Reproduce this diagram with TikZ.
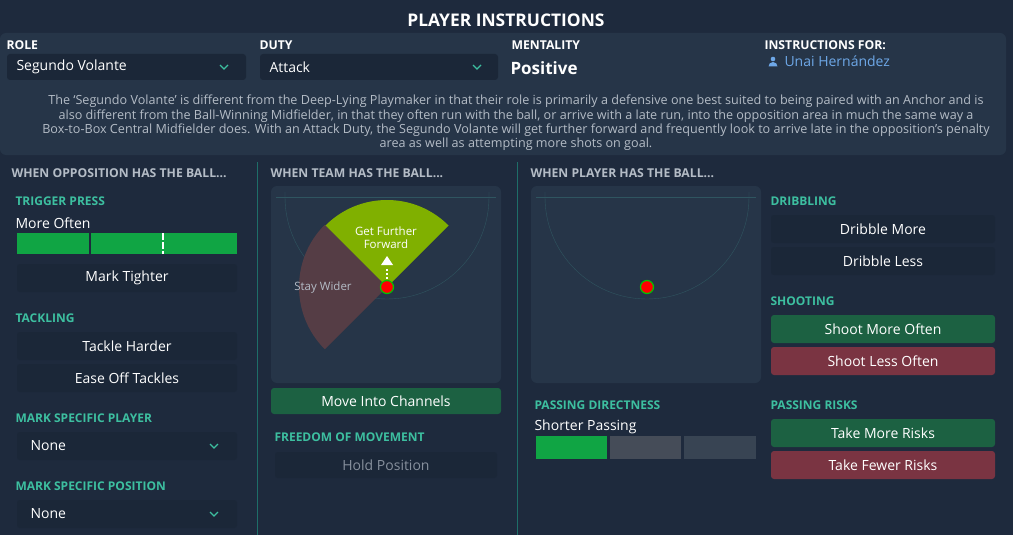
\documentclass[tikz,border=0pt]{standalone}
\usepackage{fontspec}
\setmainfont{Open Sans}
\usetikzlibrary{positioning}
\definecolor{bg}{HTML}{1E2A3D}
\definecolor{panel}{HTML}{263548}
\definecolor{btn}{HTML}{1B2738}
\definecolor{btngreen}{HTML}{1C6142}
\definecolor{btnred}{HTML}{7A3442}
\definecolor{teal}{HTML}{3DBFA0}
\definecolor{greytxt}{HTML}{B4BCC6}
\definecolor{linkblue}{HTML}{6EA8E8}
\definecolor{barfill}{HTML}{10A544}
\definecolor{sep}{HTML}{1E6E68}
\definecolor{pitchline}{HTML}{2F5560}
\definecolor{widezone}{HTML}{553D45}
\definecolor{fwdzone}{HTML}{80B000}
\tikzset{
  head/.style={anchor=west, text=greytxt, font=\fontsize{12.2}{13}\selectfont\bfseries},
  sub/.style={anchor=west, text=teal, font=\fontsize{12}{13}\selectfont\bfseries},
  lbl/.style={anchor=west, text=white, font=\fontsize{14}{15}\selectfont},
  btntext/.style={text=white, font=\fontsize{14}{15}\selectfont},
  chev/.style={draw=teal, line width=1.3pt},
}
\newcommand{\chevron}[2]{\draw[chev] (#1-4,#2-2) -- (#1,#2+2) -- (#1+4,#2-2);}
\begin{document}
\begin{tikzpicture}[x=1pt,y=-1pt]
    % background
    \fill[bg] (0,0) rectangle (1013,535);
    \useasboundingbox (0,0) rectangle (1013,535);
    \node (title) at (506,20) {\color{white}\fontsize{17.4}{19}\selectfont\bfseries PLAYER INSTRUCTIONS};

    % top panel
    \fill[panel, rounded corners=6pt] (0,33) rectangle (1006,155);
    \node[head, text=white] (role) at (3,45) {ROLE};
    \fill[btn, rounded corners=3pt] (7,54) rectangle (246,80);
    \node[lbl] (rolev) at (13,67) {Segundo Volante};
    \chevron{224}{67}
    \node[head, text=white] (duty) at (256,45) {DUTY};
    \fill[btn, rounded corners=3pt] (260,54) rectangle (498,80);
    \node[lbl] (dutyv) at (266,67) {Attack};
    \chevron{477}{67}
    \node[head, text=white] (ment) at (508,45) {MENTALITY};
    \node[anchor=west, text=white, font=\fontsize{17}{19}\selectfont\bfseries] (mentv) at (507,68) {Positive};
    \node[head, text=white] (ifor) at (761,45) {INSTRUCTIONS FOR:};
    \fill[linkblue] (773,59) circle (2.3pt);
    \fill[linkblue] (768.5,66.5) arc (180:0:4.5pt) -- cycle;
    \node[anchor=west, text=linkblue, font=\fontsize{14}{15}\selectfont] (player) at (781,61) {Unai Hernández};
    \node[text=greytxt, align=center, font=\fontsize{12.6}{14.3}\selectfont] (desc) at (516,123)
      {The ‘Segundo Volante’ is different from the Deep-Lying Playmaker in that their role is primarily a defensive one best suited to being paired with an Anchor and is\\
       also different from the Ball-Winning Midfielder, in that they often run with the ball, or arrive with a late run, into the opposition area in much the same way a\\
       Box-to-Box Central Midfielder does. With an Attack Duty, the Segundo Volante will get further forward and frequently look to arrive late in the opposition’s penalty\\
       area as well as attempting more shots on goal.};

    % separators
    \draw[sep, line width=1pt] (257,162) -- (257,535);
    \draw[sep, line width=1pt] (517,162) -- (517,535);

    % left column
    \node[head] (opp) at (8,173) {WHEN OPPOSITION HAS THE BALL...};
    \node[sub] (press) at (12,201) {TRIGGER PRESS};
    \node[lbl] (often) at (12,223) {More Often};
    \fill[barfill] (17,233) rectangle (237,254);
    \draw[bg, line width=1.5pt] (90,233) -- (90,254);
    \draw[white, line width=1.5pt, dash pattern=on 7pt off 2pt] (163,233) -- (163,254);
    \fill[btn, rounded corners=3pt] (17,264) rectangle (237,292);
    \node[btntext] (tighter) at (127,278) {Mark Tighter};
    \node[sub] (tack) at (12,318) {TACKLING};
    \fill[btn, rounded corners=3pt] (17,332) rectangle (237,360);
    \node[btntext] (harder) at (127,346) {Tackle Harder};
    \fill[btn, rounded corners=3pt] (17,364) rectangle (237,392);
    \node[btntext] (easeoff) at (127,378) {Ease Off Tackles};
    \node[sub] (msp) at (12,418) {MARK SPECIFIC PLAYER};
    \fill[btn, rounded corners=3pt] (17,432) rectangle (237,460);
    \node[lbl] (none1) at (27,446) {None};
    \chevron{214}{446}
    \node[sub] (mspos) at (12,486) {MARK SPECIFIC POSITION};
    \fill[btn, rounded corners=3pt] (17,500) rectangle (237,528);
    \node[lbl] (none2) at (27,514) {None};
    \chevron{214}{514}

    % middle column
    \node[head] (team) at (267,173) {WHEN TEAM HAS THE BALL...};
    \fill[panel, rounded corners=6pt] (271,186) rectangle (501,383);
    \draw[pitchline] (276,197) -- (496,197);
    \draw[pitchline] (285,192) -- (285,197) arc (180:360:102pt) -- (489,192);
    \coordinate (pos1) at (387,287);
    \fill[widezone] (pos1) -- ++(135:88pt) arc (135:225:88pt) -- cycle;
    \fill[fwdzone] (pos1) -- ++(45:87pt) arc (45:135:87pt) -- cycle;
    \node[text=white, align=center, font=\fontsize{11.5}{13}\selectfont] (fwd) at (386,238) {Get Further\\Forward};
    \node[text=greytxt, font=\fontsize{11.5}{12}\selectfont] (wider) at (323,288) {Stay Wider};
    \draw[white, line width=1.6pt, dash pattern=on 2.5pt off 1.5pt] (pos1) ++(0,-8) -- ++(0,-12);
    \fill[white] (381,265) -- (387,256) -- (393,265) -- cycle;
    \draw[draw={rgb,255:red,0;green,200;blue,0}, fill=red, line width=1.2pt] (pos1) circle (6.5pt);
    \fill[btngreen, rounded corners=3pt] (271,388) rectangle (501,414);
    \node[btntext] (channels) at (386,401) {Move Into Channels};
    \node[sub] (freedom) at (271,437) {FREEDOM OF MOVEMENT};
    \fill[btn, rounded corners=3pt] (275,452) rectangle (497,478);
    \node[btntext, text=greytxt!70!bg] (hold) at (386,465) {Hold Position};

    % right column
    \node[head] (plr) at (527,173) {WHEN PLAYER HAS THE BALL...};
    \fill[panel, rounded corners=6pt] (531,186) rectangle (761,383);
    \draw[pitchline] (536,197) -- (756,197);
    \draw[pitchline] (545,192) -- (545,197) arc (180:360:102pt) -- (749,192);
    \coordinate (pos2) at (647,287);
    \draw[draw={rgb,255:red,0;green,200;blue,0}, fill=red, line width=1.2pt] (pos2) circle (6.5pt);
    \node[sub] (direct) at (531,405) {PASSING DIRECTNESS};
    \node[lbl] (shorter) at (531,427) {Shorter Passing};
    \fill[barfill] (536,436) rectangle (607,459);
    \fill[gray!40!bg] (610,436) rectangle (681,459);
    \fill[panel!80!gray] (684,436) rectangle (756,459);

    \node[sub] (drib) at (767,201) {DRIBBLING};
    \fill[btn, rounded corners=3pt] (771,215) rectangle (995,243);
    \node[btntext] (dmore) at (883,229) {Dribble More};
    \fill[btn, rounded corners=3pt] (771,247) rectangle (995,275);
    \node[btntext] (dless) at (883,261) {Dribble Less};
    \node[sub] (shoot) at (767,301) {SHOOTING};
    \fill[btngreen, rounded corners=3pt] (771,315) rectangle (995,343);
    \node[btntext] (smore) at (883,329) {Shoot More Often};
    \fill[btnred, rounded corners=3pt] (771,347) rectangle (995,375);
    \node[btntext] (sless) at (883,361) {Shoot Less Often};
    \node[sub] (risks) at (767,405) {PASSING RISKS};
    \fill[btngreen, rounded corners=3pt] (771,419) rectangle (995,447);
    \node[btntext] (rmore) at (883,433) {Take More Risks};
    \fill[btnred, rounded corners=3pt] (771,451) rectangle (995,479);
    \node[btntext] (rfewer) at (883,465) {Take Fewer Risks};
\end{tikzpicture}
\end{document}
